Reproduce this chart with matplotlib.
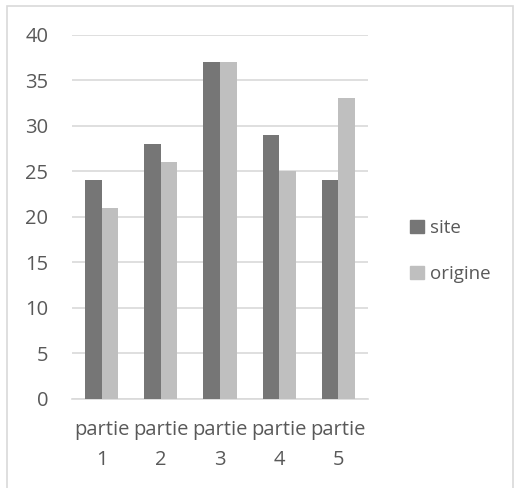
import matplotlib
matplotlib.use("Agg")
import matplotlib.pyplot as plt
from matplotlib.patches import Rectangle, Patch

categories = ["partie\n1", "partie\n2", "partie\n3", "partie\n4", "partie\n5"]
site = [24, 28, 37, 29, 24]
origine = [21, 26, 37, 25, 33]
yticks = [0, 5, 10, 15, 20, 25, 30, 35, 40]

W, H = 518, 488
fig = plt.figure(figsize=(W / 100, H / 100), dpi=100)
plt.rcParams['font.family'] = ['Open Sans', 'DejaVu Sans']
txt = '#595959'

fig.patches.append(Rectangle((7 / W, -0.01), (513 - 7) / W, 1 - 6 / H + 0.01,
                             transform=fig.transFigure, fill=False,
                             edgecolor='#D9D9D9', linewidth=1.2))

ax = fig.add_axes([72 / W, 1 - 398.7 / H, (368 - 72) / W, (398.7 - 34.7) / H])
x = list(range(len(categories)))
bw = 0.28
ax.bar([i - bw / 2 for i in x], site, width=bw, color='#767676', label='site', zorder=3)
ax.bar([i + bw / 2 for i in x], origine, width=bw, color='#BFBFBF', label='origine', zorder=3)

ax.set_xlim(-0.5, len(categories) - 0.5)
ax.set_ylim(0, 40)
ax.set_yticks(yticks)
ax.set_yticklabels([str(v) for v in yticks], color=txt, fontsize=14.5)
ax.set_xticks(x)
ax.set_xticklabels(categories, color=txt, fontsize=14.5, linespacing=1.7)
ax.tick_params(axis='y', length=0, pad=17)
ax.tick_params(axis='x', length=0, pad=15)
ax.grid(axis='y', color='#D9D9D9', linewidth=1.2, zorder=0)
for s in ['top', 'right', 'left']:
    ax.spines[s].set_visible(False)
ax.spines['bottom'].set_color('#D9D9D9')
ax.spines['bottom'].set_linewidth(1.2)
ax.set_facecolor('none')

handles = [Patch(color='#767676', label='site'), Patch(color='#BFBFBF', label='origine')]
fig.legend(handles=handles, loc='center left', bbox_to_anchor=(393 / W, 1 - 251 / H),
           frameon=False, handlelength=0.75, handleheight=0.75, handletextpad=0.3,
           labelspacing=1.5, fontsize=13.5, labelcolor=txt)

fig.savefig("out.png", dpi=100)
